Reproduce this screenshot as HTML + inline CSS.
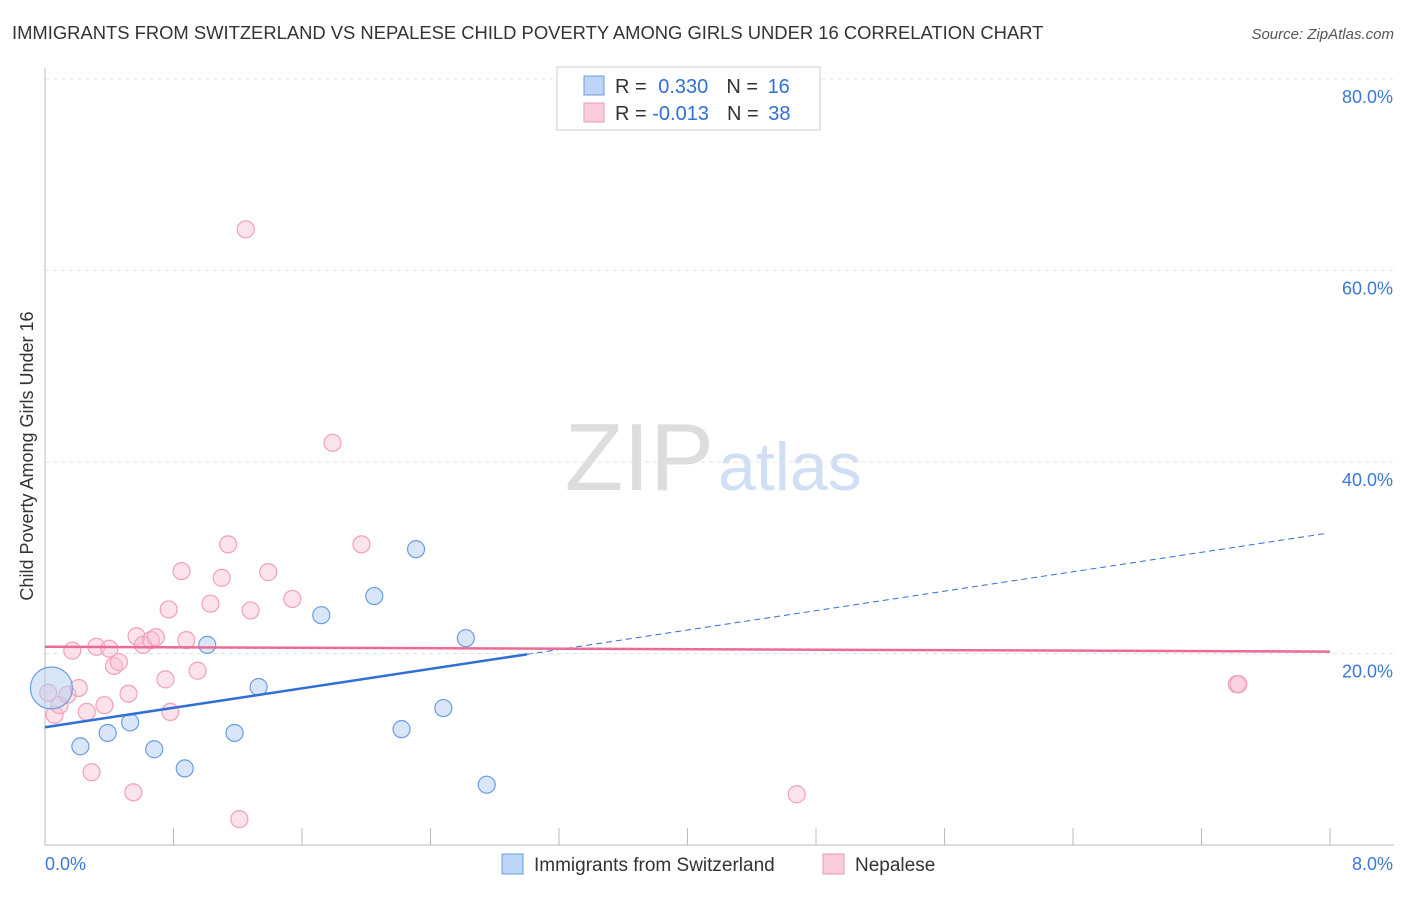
<!DOCTYPE html>
<html><head><meta charset="utf-8"><style>
body{margin:0;background:#fff;font-family:"Liberation Sans",sans-serif;}
svg text{font-family:"Liberation Sans",sans-serif;}
</style></head><body>
<svg id="c" width="1406" height="892">
<text x="12" y="39" font-size="18.4" fill="#333">IMMIGRANTS FROM SWITZERLAND VS NEPALESE CHILD POVERTY AMONG GIRLS UNDER 16 CORRELATION CHART</text>
<text x="1394" y="39" font-size="15" fill="#555" font-style="italic" text-anchor="end">Source: ZipAtlas.com</text>
<text x="714" y="490" font-size="96" fill="#ddd" font-family="Liberation Serif" text-anchor="end">ZIP</text>
<text x="718" y="490" font-size="68" fill="#d0dff3">atlas</text>
<text transform="translate(33,456) rotate(-90)" font-size="18" fill="#333" text-anchor="middle">Child Poverty Among Girls Under 16</text>
<g id="grid"></g><g id="pts"></g><g id="lines"></g>
<g>
<rect x="557" y="67" width="263" height="63" fill="#fff" stroke="#ccc"/>
<rect x="584" y="76" width="20" height="19" fill="#bcd4f5" stroke="#6a9de0"/>
<rect x="584" y="103" width="20" height="19" fill="#f9ccdb" stroke="#ef9ab5"/>
<text x="615" y="93" font-size="20" fill="#333">R = <tspan fill="#2f6fd6" dx="6">0.330</tspan><tspan dx="18" fill="#333">N = </tspan><tspan fill="#2f6fd6" dx="4">16</tspan></text>
<text x="615" y="120" font-size="20" fill="#333">R = <tspan fill="#2f6fd6">-0.013</tspan><tspan dx="18" fill="#333">N = </tspan><tspan fill="#2f6fd6" dx="4">38</tspan></text>
</g>
<g>
<rect x="502" y="854" width="21" height="20" fill="#bcd4f5" stroke="#6a9de0"/>
<text x="534" y="871" font-size="19" fill="#333">Immigrants from Switzerland</text>
<rect x="823" y="854" width="21" height="20" fill="#f9ccdb" stroke="#ef9ab5"/>
<text x="855" y="871" font-size="19" fill="#333">Nepalese</text>
</g>
</svg>
<script>
const xTicks=[0,0.8,1.6,2.4,3.2,4.0,4.8,5.6,6.4,7.2,8.0];
const yTicks=[20,40,60,80];
const swissX=[0.04,0.22,0.39,0.53,0.68,0.87,1.01,1.18,1.33,1.72,2.05,2.22,2.31,2.48,2.62,2.75];
const swissY=[16.4,10.3,11.7,12.8,10.0,8.0,20.9,11.7,16.5,24.0,26.0,12.1,30.9,14.3,21.6,6.3];
const nepX=[1.25,1.79,0.02,0.06,0.09,0.14,0.17,0.21,0.26,0.29,0.32,0.37,0.40,0.43,0.46,0.52,0.55,0.57,0.61,0.66,0.69,0.75,0.77,0.78,0.85,0.88,0.95,1.03,1.10,1.14,1.21,1.28,1.39,1.54,1.97,4.68,7.42,7.43];
const nepY=[64.3,42.0,15.9,13.6,14.6,15.7,20.3,16.4,13.9,7.6,20.7,14.6,20.5,18.7,19.1,15.8,5.5,21.8,20.9,21.4,21.7,17.3,24.6,13.9,28.6,21.4,18.2,25.2,27.9,31.4,2.7,24.5,28.5,25.7,31.4,5.3,16.8,16.8];
const swissTrend=[12.3,32.6];
const nepTrend=[20.7,20.2];
const NS="http://www.w3.org/2000/svg";
const X=v=>45+v/8*1285, Y=v=>845-v/20*191.5;
function mk(t,a,p){const e=document.createElementNS(NS,t);for(const k in a)e.setAttribute(k,a[k]);p.appendChild(e);return e;}
const g=document.getElementById('grid'),pg=document.getElementById('pts'),lg=document.getElementById('lines');
yTicks.forEach(v=>{
 const l=mk('line',{x1:45,x2:1394,y1:Y(v),y2:Y(v),stroke:'#e3e3e3','stroke-dasharray':'4,4'},g);
 
 
 const t=mk('text',{x:1393,y:Y(v)+24,'font-size':18,fill:'#3b78d8','text-anchor':'end'},g);t.textContent=v.toFixed(1)+'%';
 
 
});
mk('line',{x1:45,x2:45,y1:68,y2:845,stroke:'#bbb'},g);
mk('line',{x1:45,x2:1394,y1:845,y2:845,stroke:'#bbb'},g);
xTicks.forEach((v,i)=>{ if(i>0){const k=mk('line',{x1:X(v),x2:X(v),y1:828,y2:845,stroke:'#bbb'},g);
 
 }});
[[0,'0.0%','start',45],[8,'8.0%','end',1393]].forEach(([v,s,a,x])=>{const t=mk('text',{x:x,y:870,'font-size':18,fill:'#3b78d8','text-anchor':a},g);t.textContent=s;
 
 });
nepX.forEach((v,i)=>{const c=mk('circle',{cx:X(v),cy:Y(nepY[i]),r:8.5,fill:'rgba(248,190,210,0.45)',stroke:'#efa0ba','stroke-width':1.2},pg);
 
 });
swissX.forEach((v,i)=>{const c=mk('circle',{cx:X(v),cy:Y(swissY[i]),r:i==0?21:8.5,fill:'rgba(180,205,242,0.5)',stroke:'#6a9de0','stroke-width':1.2},pg);
 
 });
const sy=v=>swissTrend[0]+(swissTrend[1]-swissTrend[0])*v/8;
const split=3.0;
let a=mk('line',{x1:X(0),y1:Y(sy(0)),x2:X(split),y2:Y(sy(split)),stroke:'#2f6fd6','stroke-width':2.5},lg);


a=mk('line',{x1:X(split),y1:Y(sy(split)),x2:X(7.98),y2:Y(sy(7.98)),stroke:'#2f6fd6','stroke-width':1,'stroke-dasharray':'6,4'},lg);


a=mk('line',{x1:X(0),y1:Y(nepTrend[0]),x2:X(8),y2:Y(nepTrend[1]),stroke:'#ec6b93','stroke-width':2.5},lg);


</script>
</body></html>
